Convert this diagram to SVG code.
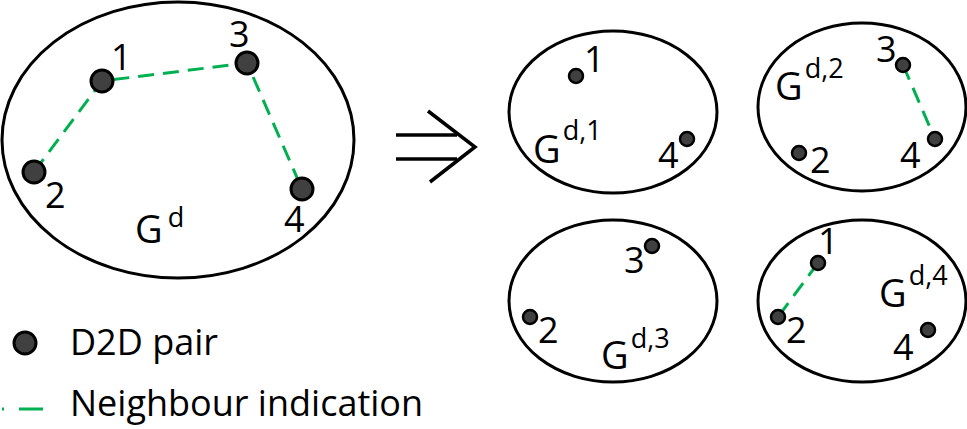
<svg xmlns="http://www.w3.org/2000/svg" width="967" height="429" viewBox="0 0 967 429">
<style>
.ell{fill:none;stroke:#000;stroke-width:3}
.nb{fill:#404040;stroke:#000;stroke-width:3}
.ns{fill:#404040;stroke:#000;stroke-width:2.5}
.lnk{fill:none;stroke:#00B050;stroke-width:3;stroke-dasharray:16 9}
.t{font-family:"Open Sans","Liberation Sans",sans-serif;font-size:36px;fill:#000}
.g{font-size:38px}
.s{font-size:27px}
.ar{fill:none;stroke:#000;stroke-width:3.5}
</style>
<rect width="967" height="429" fill="#fff"/>
<g id="connectors">
<polyline class="lnk" points="34,172 102,81 247,63 302,189"/>
<line class="lnk" x1="903" y1="65" x2="935" y2="139"/>
<line class="lnk" x1="818" y1="263" x2="778" y2="317"/>
<g id="transform-arrow">
<line class="ar" x1="396" y1="135" x2="457" y2="135"/>
<line class="ar" x1="396" y1="159" x2="457" y2="159"/>
<polyline class="ar" points="428,111 475,147 430,182"/>
</g>
</g>
<g id="graph-Gd">
<ellipse class="ell" cx="178" cy="140" rx="176" ry="138"/>
<circle class="nb" cx="102" cy="81" r="11"/>
<circle class="nb" cx="247" cy="63" r="11"/>
<circle class="nb" cx="34" cy="172" r="11"/>
<circle class="nb" cx="302" cy="189" r="11"/>
<text class="t" x="111" y="70">1</text>
<text class="t" x="229" y="47">3</text>
<text class="t" x="45" y="208">2</text>
<text class="t" x="284" y="232">4</text>
<text class="t g" x="135" y="243">G<tspan class="s" dx="5" dy="-16">d</tspan></text>
</g>
<g id="graph-Gd1">
<ellipse class="ell" cx="613" cy="112" rx="104" ry="81"/>
<circle class="ns" cx="576" cy="76" r="7"/>
<circle class="ns" cx="687" cy="139" r="7"/>
<text class="t" x="584" y="72">1</text>
<text class="t" x="658" y="168">4</text>
<text class="t g" x="533" y="163">G<tspan class="s" dx="2" dy="-23">d,1</tspan></text>
</g>
<g id="graph-Gd2">
<ellipse class="ell" cx="862" cy="107" rx="104" ry="84"/>
<circle class="ns" cx="903" cy="65" r="7"/>
<circle class="ns" cx="935" cy="139" r="7"/>
<circle class="ns" cx="799" cy="153" r="7"/>
<text class="t" x="876" y="62">3</text>
<text class="t" x="900" y="168">4</text>
<text class="t" x="810" y="173">2</text>
<text class="t g" x="775" y="100">G<tspan class="s" dx="2" dy="-22">d,2</tspan></text>
</g>
<g id="graph-Gd3">
<ellipse class="ell" cx="613" cy="301" rx="104" ry="81"/>
<circle class="ns" cx="652" cy="246" r="7"/>
<circle class="ns" cx="530" cy="317" r="7"/>
<text class="t" x="624" y="273">3</text>
<text class="t" x="538" y="343">2</text>
<text class="t g" x="601" y="369">G<tspan class="s" dx="2" dy="-21">d,3</tspan></text>
</g>
<g id="graph-Gd4">
<ellipse class="ell" cx="862" cy="301" rx="104" ry="81"/>
<circle class="ns" cx="818" cy="263" r="7"/>
<circle class="ns" cx="778" cy="317" r="7"/>
<circle class="ns" cx="928" cy="330" r="7"/>
<text class="t" x="818" y="254">1</text>
<text class="t" x="786" y="343">2</text>
<text class="t" x="893" y="360">4</text>
<text class="t g" x="879" y="307">G<tspan class="s" dx="2" dy="-22">d,4</tspan></text>
</g>
<g id="legend">
<circle class="nb" cx="25" cy="343" r="11"/>
<text class="t" x="70" y="355">D2D pair</text>
<line x1="2" y1="409" x2="43" y2="409" stroke="#00B050" stroke-width="3" stroke-dasharray="2 15 24 10"/>
<text class="t" x="70" y="416">Neighbour indication</text>
</g>
</svg>
